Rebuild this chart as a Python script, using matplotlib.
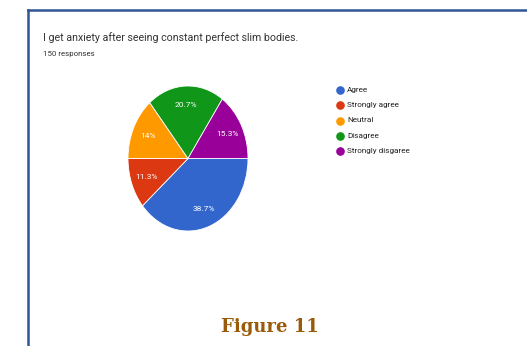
import matplotlib.pyplot as plt
from matplotlib.lines import Line2D
import numpy as np

# survey answers (150 responses)
labels = ['Agree', 'Strongly agree', 'Neutral', 'Disagree', 'Strongly disgaree']
shares = [38.7, 11.3, 14.0, 20.7, 15.3]
pct_text = ['38.7%', '11.3%', '14%', '20.7%', '15.3%']
colors = ['#3366cc', '#dc3912', '#ff9900', '#109618', '#990099']

W, H = 527, 346
fig = plt.figure(figsize=(W / 100, H / 100), dpi=100)
fig.patch.set_facecolor('white')

# blue frame (top + left)
frame_col = '#2f5597'
fig.add_artist(Line2D([27.5 / W, 1], [1 - 9.5 / H, 1 - 9.5 / H], color=frame_col, lw=1.8,
                      transform=fig.transFigure))
fig.add_artist(Line2D([27.5 / W, 27.5 / W], [0, 1 - 9.5 / H], color=frame_col, lw=1.8,
                      transform=fig.transFigure))

fig.text(43 / W, 1 - 38 / H, 'I get anxiety after seeing constant perfect slim bodies.',
         fontsize=7.7, family='Roboto', color='#333333', va='center', ha='left')
fig.text(43 / W, 1 - 54 / H, '150 responses', fontsize=5.7, family='Roboto',
         color='#333333', va='center', ha='left')

# pie (slightly stretched vertically like the screenshot)
ax = fig.add_axes([128 / W, 1 - 231 / H, 120 / W, 145 / H])
ax.pie(shares, colors=colors, startangle=0, counterclock=False,
       wedgeprops=dict(edgecolor='white', linewidth=0.6))
ax.set_aspect('auto')
ax.set_xlim(-1, 1)
ax.set_ylim(-1, 1)

ang = 0.0
for w, t in zip(shares, pct_text):
    mid = ang - w / 2 * 3.6
    ang -= w * 3.6
    r = 0.74
    ax.text(r * np.cos(np.radians(mid)), r * np.sin(np.radians(mid)), t,
            ha='center', va='center', color='white', fontsize=6, family='Roboto')

# legend
ys = [90, 105.5, 120.5, 136, 151]
for lab, c, y in zip(labels, colors, ys):
    fig.add_artist(Line2D([340 / W], [1 - y / H], marker='o', markersize=5.2,
                          color=c, transform=fig.transFigure))
    fig.text(347 / W, 1 - y / H, lab, fontsize=5.9, family='Roboto', color='#222222',
             va='center', ha='left')

fig.text(270 / W, 1 - 327 / H, 'Figure 11', fontsize=13, family='DejaVu Serif',
         weight='bold', color='#9a5a08', ha='center', va='center')

fig.savefig('out.png', dpi=100)
